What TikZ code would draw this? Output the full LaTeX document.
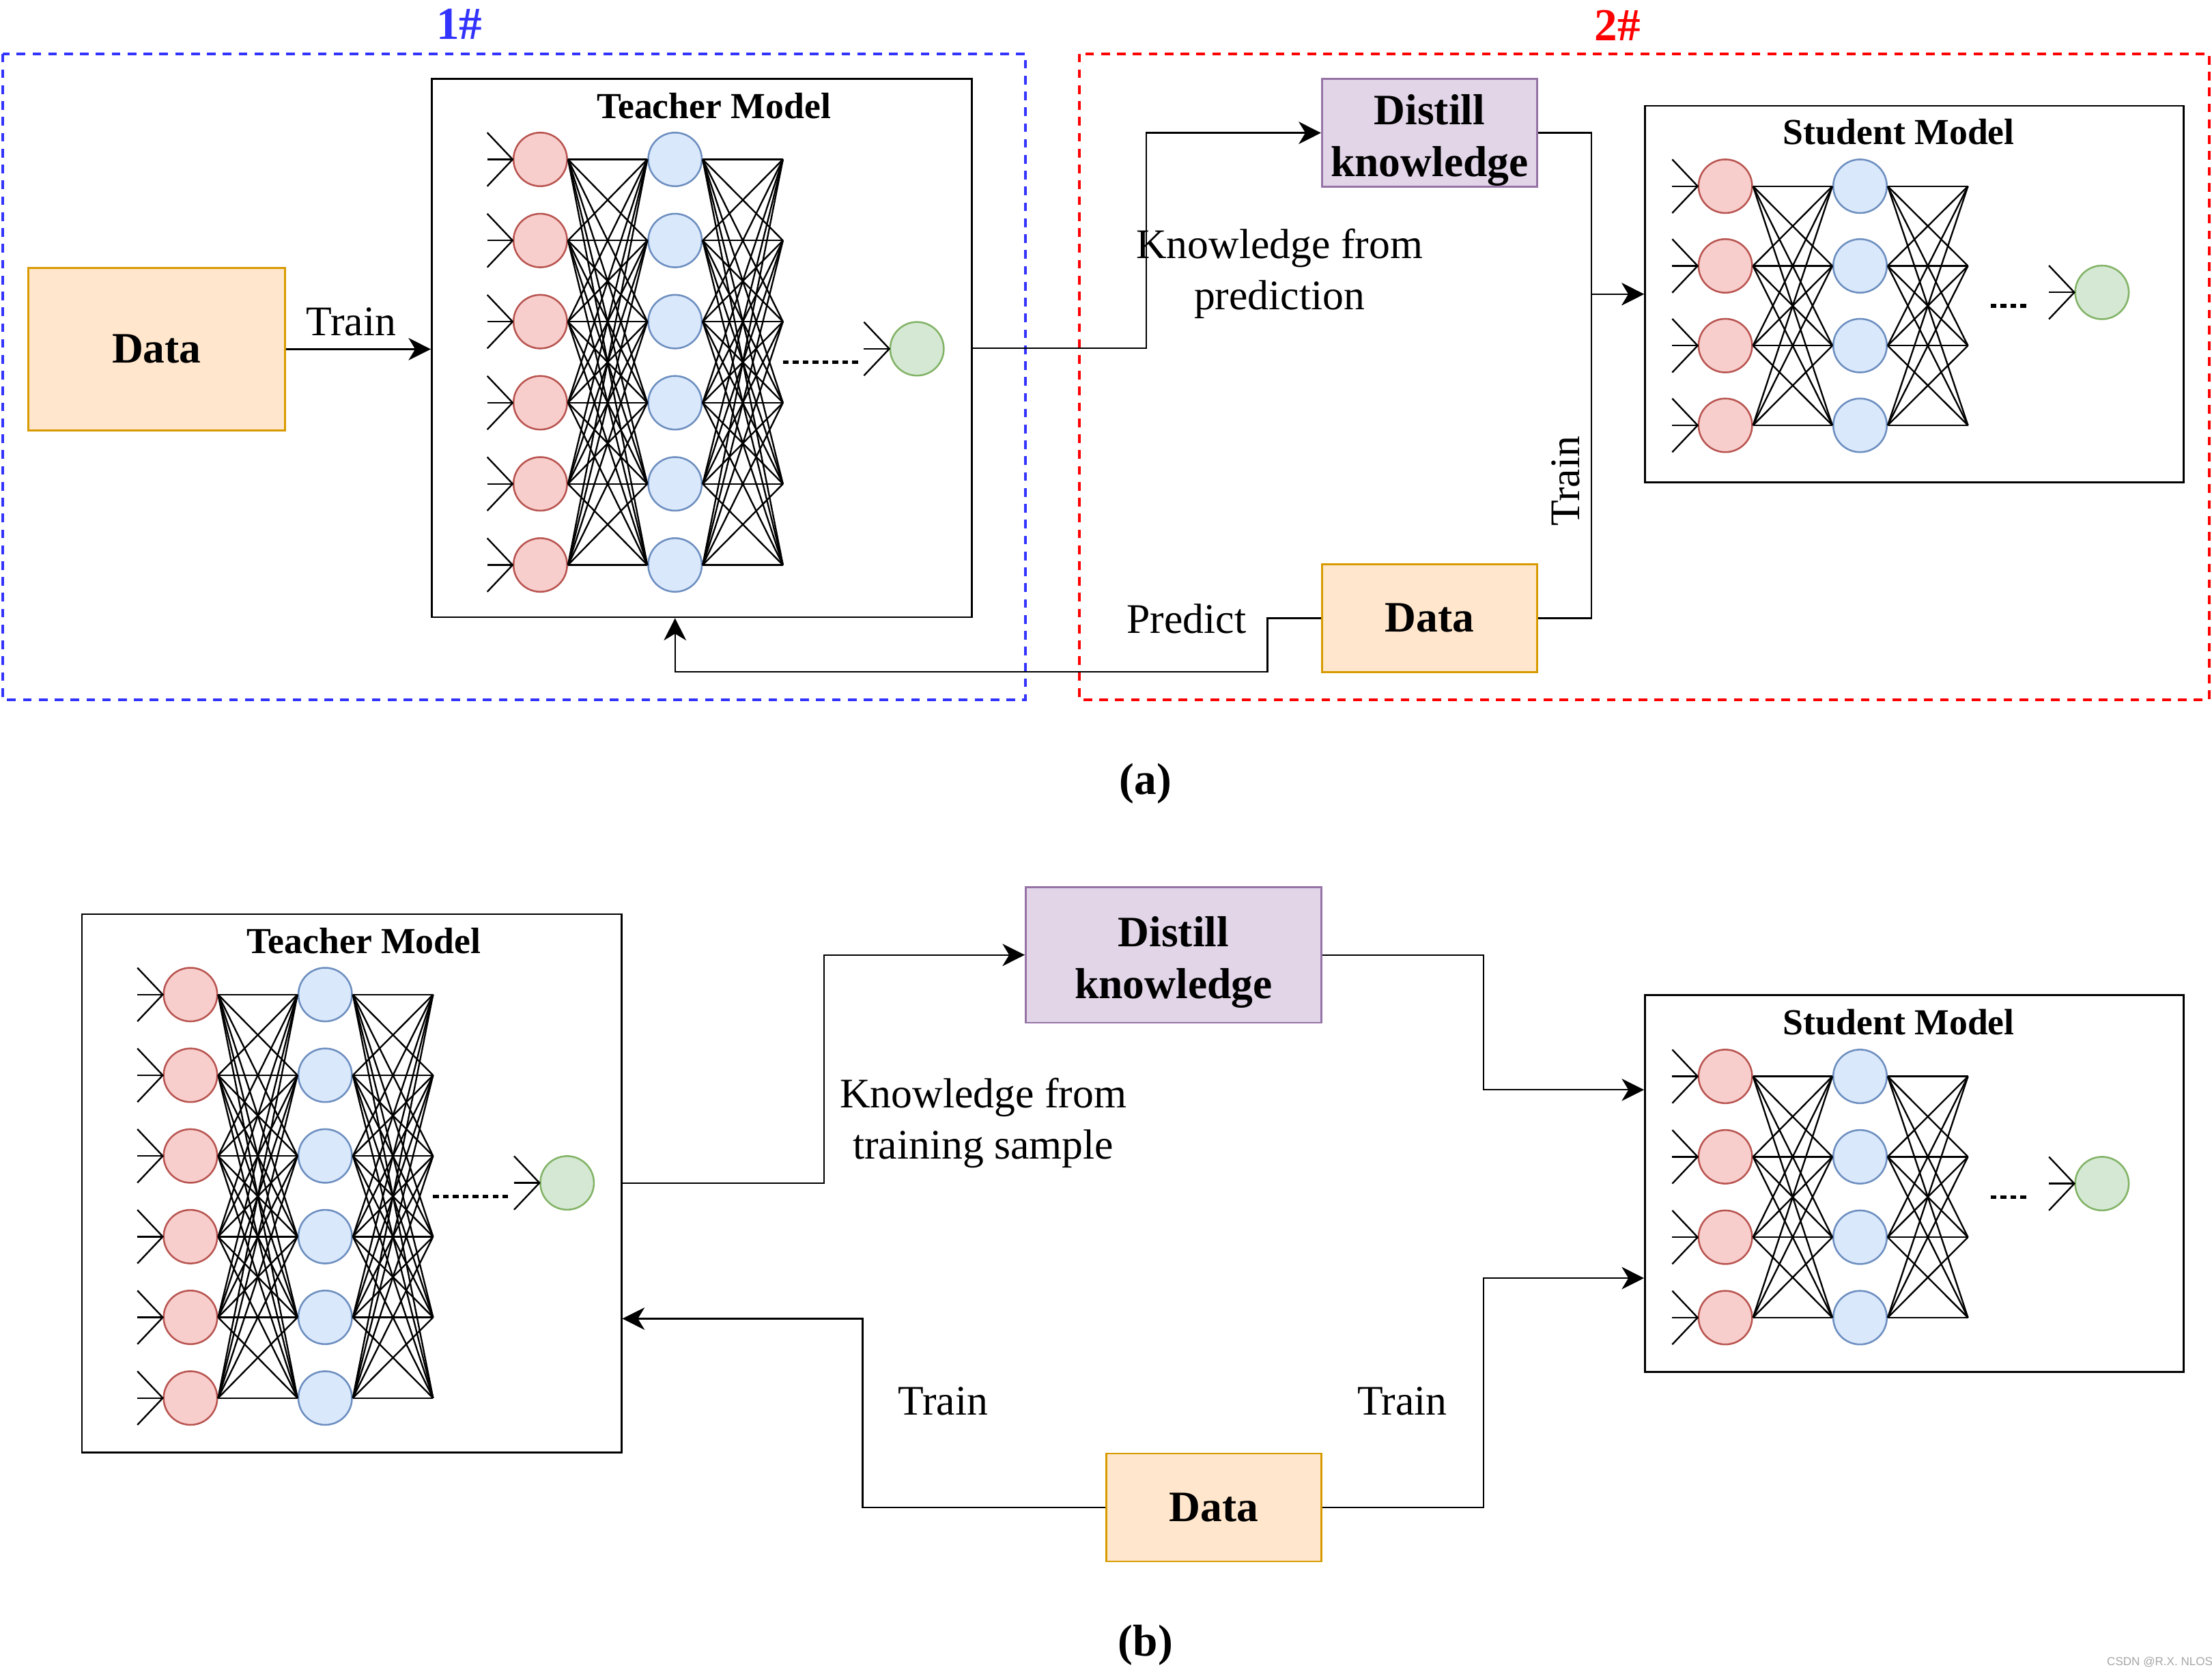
\documentclass[tikz,border=0pt]{standalone}
\usepackage{fontspec}
\setmainfont{Liberation Serif}
\newfontfamily\wmfont{Liberation Sans}
\usepackage{tikz}
\usetikzlibrary{arrows.meta,calc}
\usepackage{xcolor}

\definecolor{dataFill}{HTML}{FFE6CC}
\definecolor{dataLine}{HTML}{D79B00}
\definecolor{distFill}{HTML}{E1D5E7}
\definecolor{distLine}{HTML}{9673A6}
\definecolor{redFill}{HTML}{F8CECC}
\definecolor{redLine}{HTML}{B85450}
\definecolor{blueFill}{HTML}{DAE8FC}
\definecolor{blueLine}{HTML}{6C8EBF}
\definecolor{greenFill}{HTML}{D5E8D4}
\definecolor{greenLine}{HTML}{82B366}
\definecolor{frameBlue}{HTML}{3333FF}
\definecolor{frameRed}{HTML}{FF0000}

% #1 prefix, #2 x of input layer, #3 y of first row, #4 rows, #5 row gap, #6/#7 dots from/to
\newcommand{\mlp}[7]{%
  \foreach \i in {1,...,#4} {
    \node[inneuron] (#1r\i) at (#2, {#3+#5*(\i-1)}) {};
    \node[hidneuron] (#1b\i) at (#2+95.5, {#3+#5*(\i-1)}) {};
    \coordinate (#1p\i) at (#2+172, {#3+#5*(\i-1)});
    \draw[wire] ([shift={(-18,-19)}]#1r\i.west) -- (#1r\i.west) -- ++(-18,19);
    \draw[wire] ([shift={(-18,0)}]#1r\i.west) -- (#1r\i.west);
  }
  \foreach \i in {1,...,#4} {
    \foreach \j in {1,...,#4} {
      \draw[wire] (#1r\i.east) -- (#1b\j.west);
      \draw[wire] (#1b\i.east) -- (#1p\j);
    }
  }
  \node[outneuron] (#1o) at (#2+267, {#3+#5*(#4-1)/2-9.5}) {};
  \draw[wire] ([shift={(-18,-19)}]#1o.west) -- (#1o.west) -- ++(-18,19);
  \draw[wire] ([shift={(-18,0)}]#1o.west) -- (#1o.west);
  \coordinate (#1ds) at (#2+172+#6, {#3+#5*(#4-1)/2});
  \coordinate (#1de) at (#2+172+#7, {#3+#5*(#4-1)/2});
  \draw[dotline] (#1ds) -- (#1de);
}

\begin{document}
\begin{tikzpicture}[
    x=0.02cm, y=-0.02cm,
    box/.style={rectangle, draw, line width=0.75pt, inner sep=0pt},
    model/.style={box, draw=black},
    databox/.style={box, fill=dataFill, draw=dataLine, font=\bfseries\fontsize{17.5}{21}\selectfont},
    distillbox/.style={box, fill=distFill, draw=distLine, align=center, font=\bfseries\fontsize{17.5}{21}\selectfont},
    neuron/.style={circle, line width=0.7pt, minimum size=0.76cm, inner sep=0pt},
    inneuron/.style={neuron, fill=redFill, draw=redLine},
    hidneuron/.style={neuron, fill=blueFill, draw=blueLine},
    outneuron/.style={neuron, fill=greenFill, draw=greenLine},
    wire/.style={line width=0.65pt},
    dotline/.style={line width=1.45pt, dash pattern=on 2.3pt off 1.7pt},
    arr/.style={line width=0.65pt, -{Stealth[length=9pt, width=9pt, inset=2.7pt]}},
    frame/.style={line width=1.1pt, dash pattern=on 3.5pt off 2.9pt},
    tag/.style={font=\bfseries\fontsize{18.5}{22}\selectfont},
    title/.style={font=\bfseries\fontsize{14.8}{17}\selectfont, anchor=base},
    lbl/.style={font=\fontsize{17}{20.5}\selectfont},
    capt/.style={font=\bfseries\fontsize{18}{22}\selectfont, anchor=base}
]
    \useasboundingbox (0,0) rectangle (1568,1185);

    % (a) groups
    \draw[frame, draw=frameBlue] (2,38) rectangle (727,496);
    \node[tag, text=frameBlue] (tag1) at (325.5,17) {1\#};
    \draw[frame, draw=frameRed] (765,38) rectangle (1566,496);
    \node[tag, text=frameRed] (tag2) at (1146.5,18) {2\#};

    % (a) teacher side
    \node[databox, minimum width=3.64cm, minimum height=2.3cm] (data1) at (111,247.5) {Data};
    \node[model, minimum width=7.66cm, minimum height=7.63cm] (teacherA) at (497.5,246.75) {};
    \node[title] (teacherAt) at (506,84) {Teacher Model};
    \mlp{tA}{383}{113}{6}{57.5}{0}{56}
    \draw[arr] (data1.east) -- (data1.east -| teacherA.west);
    \node[lbl, anchor=base] (trainA) at (249,238) {Train};

    % (a) student side
    \node[distillbox, minimum width=3.05cm, minimum height=1.53cm] (distillA) at (1013.3,94.2) {\rule{0pt}{18pt}Distill\\knowledge};
    \node[databox, minimum width=3.05cm, minimum height=1.53cm] (dataA) at (1013.3,438.2) {Data};
    \node[model, minimum width=7.64cm, minimum height=5.34cm] (studentA) at (1357,208.5) {};
    \node[title] (studentAt) at (1346,102.3) {Student Model};
    \mlp{sA}{1223}{132}{4}{56.5}{16}{42}

    \draw[arr] (teacherA.east) -- ++(123,0) |- (distillA.west);
    \draw[arr] (distillA.east) -- ++(38,0) |- (studentA.west);
    \draw[arr] (dataA.east) -- ++(38,0) |- (studentA.west);
    \draw[arr] (dataA.west) -| ++(-38,38) -| (tAb6 |- teacherA.south);
    \node[lbl, align=center] (kfp) at (907,194) {Knowledge from\\prediction};
    \node[lbl, rotate=90] (trainA2) at (1110,341) {Train};
    \node[lbl, anchor=base] (predict) at (841,449) {Predict};

    \node[capt] (capA) at (812,563) {(a)};

    % (b)
    \node[model, minimum width=7.65cm, minimum height=7.63cm] (teacherB) at (249.25,838.75) {};
    \node[title] (teacherBt) at (258,676) {Teacher Model};
    \mlp{tB}{135}{705}{6}{57.2}{0}{56}
    \node[distillbox, minimum width=4.19cm, minimum height=1.92cm] (distillB) at (831.8,676.9) {\rule{0pt}{18pt}Distill\\knowledge};
    \node[databox, minimum width=3.05cm, minimum height=1.53cm] (dataB) at (860.3,1068.5) {Data};
    \node[model, minimum width=7.64cm, minimum height=5.34cm] (studentB) at (1357,839) {};
    \node[title] (studentBt) at (1346,733.3) {Student Model};
    \mlp{sB}{1223}{763}{4}{57}{16}{42}

    \draw[arr] (teacherB.east) -- ++(143,0) |- (distillB.west);
    \draw[arr] (distillB.east) -- ++(114.5,0) |- ([yshift=1.33cm]studentB.west);
    \draw[arr] (dataB.east) -- ++(114.5,0) |- ([yshift=-1.34cm]studentB.west);
    \draw[arr] (dataB.west) -- ++(-172,0) |- ([yshift=-1.92cm]teacherB.east);
    \node[lbl, align=center] (kfs) at (697,796) {Knowledge from\\training sample};
    \node[lbl, anchor=base] (trainB1) at (668.6,1003) {Train};
    \node[lbl, anchor=base] (trainB2) at (994,1003) {Train};

    \node[capt] (capB) at (812,1174) {(b)};

    \node[font=\wmfont\fontsize{4.7}{5}\selectfont, text=gray!70] (wm) at (1531,1178) {CSDN @R.X. NLOS};
\end{tikzpicture}
\end{document}
